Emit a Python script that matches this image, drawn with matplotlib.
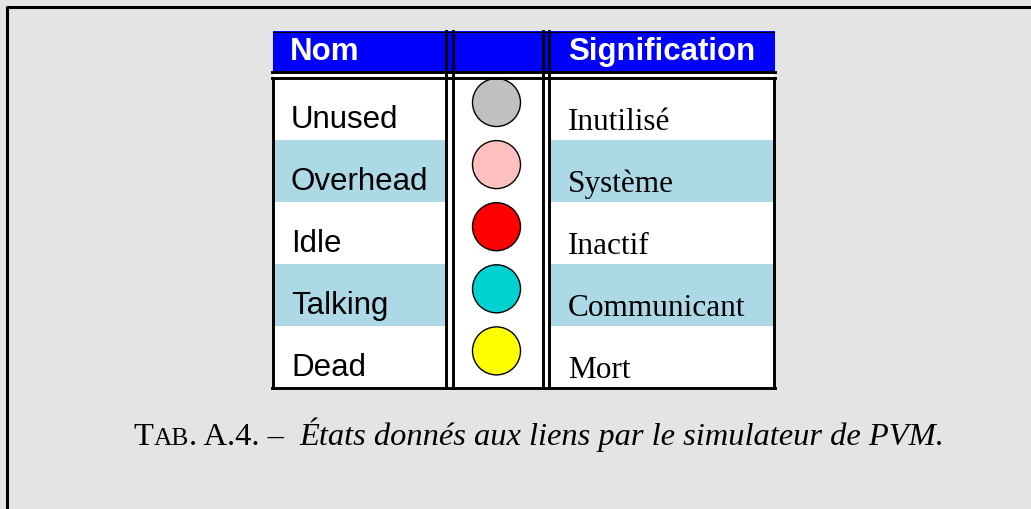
import matplotlib
matplotlib.use("Agg")
import matplotlib.pyplot as plt
from matplotlib.patches import Rectangle, Circle

# donnees du tableau
noms = ["Unused", "Overhead", "Idle", "Talking", "Dead"]
couleurs = ["#c0c0c0", "#ffbfbf", "#ff0000", "#00d2d2", "#ffff00"]
significations = ["Inutilisé", "Système", "Inactif", "Communicant", "Mort"]
entetes = ["Nom", "", "Signification"]
legende = [("T", "normal", 1.0), ("AB", "normal", 0.78), (". A.4. –  ", "normal", 1.0),
           ("États donnés aux liens par le simulateur de PVM.", "italic", 1.0)]

W, H = 1031, 509
fig = plt.figure(figsize=(W / 100, H / 100), dpi=100)
fig.patch.set_facecolor("#e4e4e4")
ax = fig.add_axes([0, 0, 1, 1])
ax.set_xlim(0, W)
ax.set_ylim(H, 0)
ax.axis("off")

# cadre de la page (haut et gauche)
ax.plot([6.5, 6.5, W + 5], [H + 5, 6.5, 6.5], color="black", lw=2.2, solid_capstyle="butt")

x0, x1 = 273, 774
d1 = (445.5, 452.5)
d2 = (543.0, 548.5)
hy0, hy1 = 31, 72
by0, by1 = 77.5, 388
rh = (by1 - by0) / len(noms)
lw = 2.1

# entete bleue
ax.add_patch(Rectangle((x0, hy0), x1 - x0 + 1, hy1 - hy0, facecolor="#0000ff", edgecolor="none"))
ax.add_patch(Rectangle((x0, hy1), x1 - x0, by0 - hy1, facecolor="white", edgecolor="none"))
ax.plot([x0, x1], [hy0 + 0.5, hy0 + 0.5], color="black", lw=0.8)
ax.plot([x0 - 1, x1 + 1], [hy1, hy1], color="black", lw=lw)
ax.text(290, 60, entetes[0], color="white", fontsize=22.5, fontweight="bold",
        family="Liberation Sans", va="baseline")
ax.text(568, 60, entetes[2], color="white", fontsize=22.5, fontweight="bold",
        family="Liberation Sans", va="baseline")

# corps
ax.add_patch(Rectangle((x0, by0), x1 - x0, by1 - by0, facecolor="white", edgecolor="none"))
for i, (nom, c, sig) in enumerate(zip(noms, couleurs, significations)):
    top = by0 + i * rh
    if i % 2 == 1:
        ax.add_patch(Rectangle((x0, top), d1[0] - x0, rh, facecolor="#add8e6", edgecolor="none"))
        ax.add_patch(Rectangle((d2[1], top), x1 - d2[1], rh, facecolor="#add8e6", edgecolor="none"))
    ax.text(291, top + 50.5, nom, fontsize=22.5, family="Liberation Sans", va="baseline")
    ax.text(568, top + 52, sig, fontsize=22.5, family="Liberation Serif", va="baseline")
    ax.add_patch(Circle((496.5, top + 25), 24, facecolor=c, edgecolor="black", lw=1.0))

ax.plot([x0 - 1, x1 + 1], [by0, by0], color="black", lw=lw)
ax.plot([x0 - 1, x1 + 1], [by1, by1], color="black", lw=lw)
ax.plot([x0, x0], [by0, by1], color="black", lw=lw)
ax.plot([x1, x1], [by0, by1], color="black", lw=lw)
for xs in (d1, d2):
    for xv in xs:
        ax.plot([xv, xv], [hy0, by1], color="black", lw=lw)

# legende
taille = 23.4
fig.canvas.draw()
r = fig.canvas.get_renderer()
morceaux = []
for txt, style, f in legende:
    t = ax.text(0, 445, txt, fontsize=taille * f, family="Liberation Serif",
                style=style, va="baseline", ha="left")
    morceaux.append(t)
largeurs = [t.get_window_extent(r).width for t in morceaux]
x = 539 - sum(largeurs) / 2
for t, w in zip(morceaux, largeurs):
    t.set_x(x)
    x += w

fig.savefig("out.png", dpi=100, facecolor=fig.get_facecolor())
